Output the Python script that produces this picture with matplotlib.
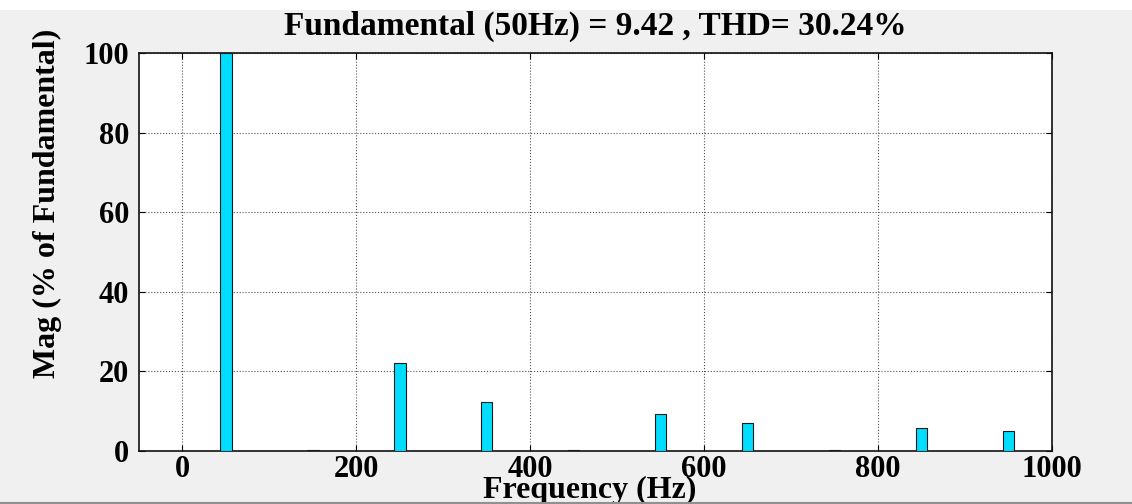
import matplotlib.pyplot as plt
from matplotlib.patches import Rectangle
from matplotlib.lines import Line2D

# harmonic spectrum (% of fundamental)
freq_hz = [50, 150, 250, 350, 450, 550, 650, 750, 850, 950]
mag_pct = [100, 0.3, 22.1, 12.3, 0.3, 9.3, 7.0, 0.3, 5.8, 5.0]
xticks = [0, 200, 400, 600, 800, 1000]
yticks = [0, 20, 40, 60, 80, 100]

plt.rcParams['font.family'] = ['Liberation Serif', 'DejaVu Serif']
plt.rcParams['font.weight'] = 'bold'
plt.rcParams['xtick.direction'] = 'in'
plt.rcParams['ytick.direction'] = 'in'

fig = plt.figure(figsize=(11.32, 5.04), dpi=100, facecolor='#f0f0f0')
ax = fig.add_axes([139 / 1132, 1 - 451 / 504, (1052 - 139) / 1132, (451 - 53) / 504])

ax.bar(freq_hz, mag_pct, width=13, color='#00ddff', edgecolor='#1a1a1a',
       linewidth=0.8, zorder=3)

ax.set_xlim(-50, 1000)
ax.set_ylim(0, 100)
ax.set_xticks(xticks)
ax.set_yticks(yticks)
ax.tick_params(axis='both', labelsize=22, top=True, right=True, length=4,
               width=0.8)
ax.tick_params(axis='x', pad=3)
ax.tick_params(axis='y', pad=7)
for lbl in ax.get_xticklabels() + ax.get_yticklabels():
    lbl.set_fontweight('bold')
ax.grid(True, linestyle=':', color='#555555', linewidth=0.8, zorder=0)
for sp in ax.spines.values():
    sp.set_linewidth(1.2)
    sp.set_color('#111111')

ax.set_title('Fundamental (50Hz) = 9.42 , THD= 30.24%', fontsize=24,
             fontweight='bold', pad=13)
ax.set_xlabel('Frequency (Hz)', fontsize=23, fontweight='bold')
ax.set_ylabel('Mag (% of Fundamental)', fontsize=23, fontweight='bold')
ax.xaxis.set_label_coords(0.494, -0.062)
ax.yaxis.set_label_coords(-0.084, 0.622)

# white strip along the top edge and a thin border at the bottom
fig.patches.append(Rectangle((0, 1 - 10 / 504), 1, 10 / 504,
                             transform=fig.transFigure, facecolor='white',
                             edgecolor='none'))
fig.lines.append(Line2D([0, 1], [1.5 / 504, 1.5 / 504], transform=fig.transFigure,
                        color='#909090', linewidth=1.5))

fig.savefig('out.png', dpi=100, facecolor=fig.get_facecolor())
